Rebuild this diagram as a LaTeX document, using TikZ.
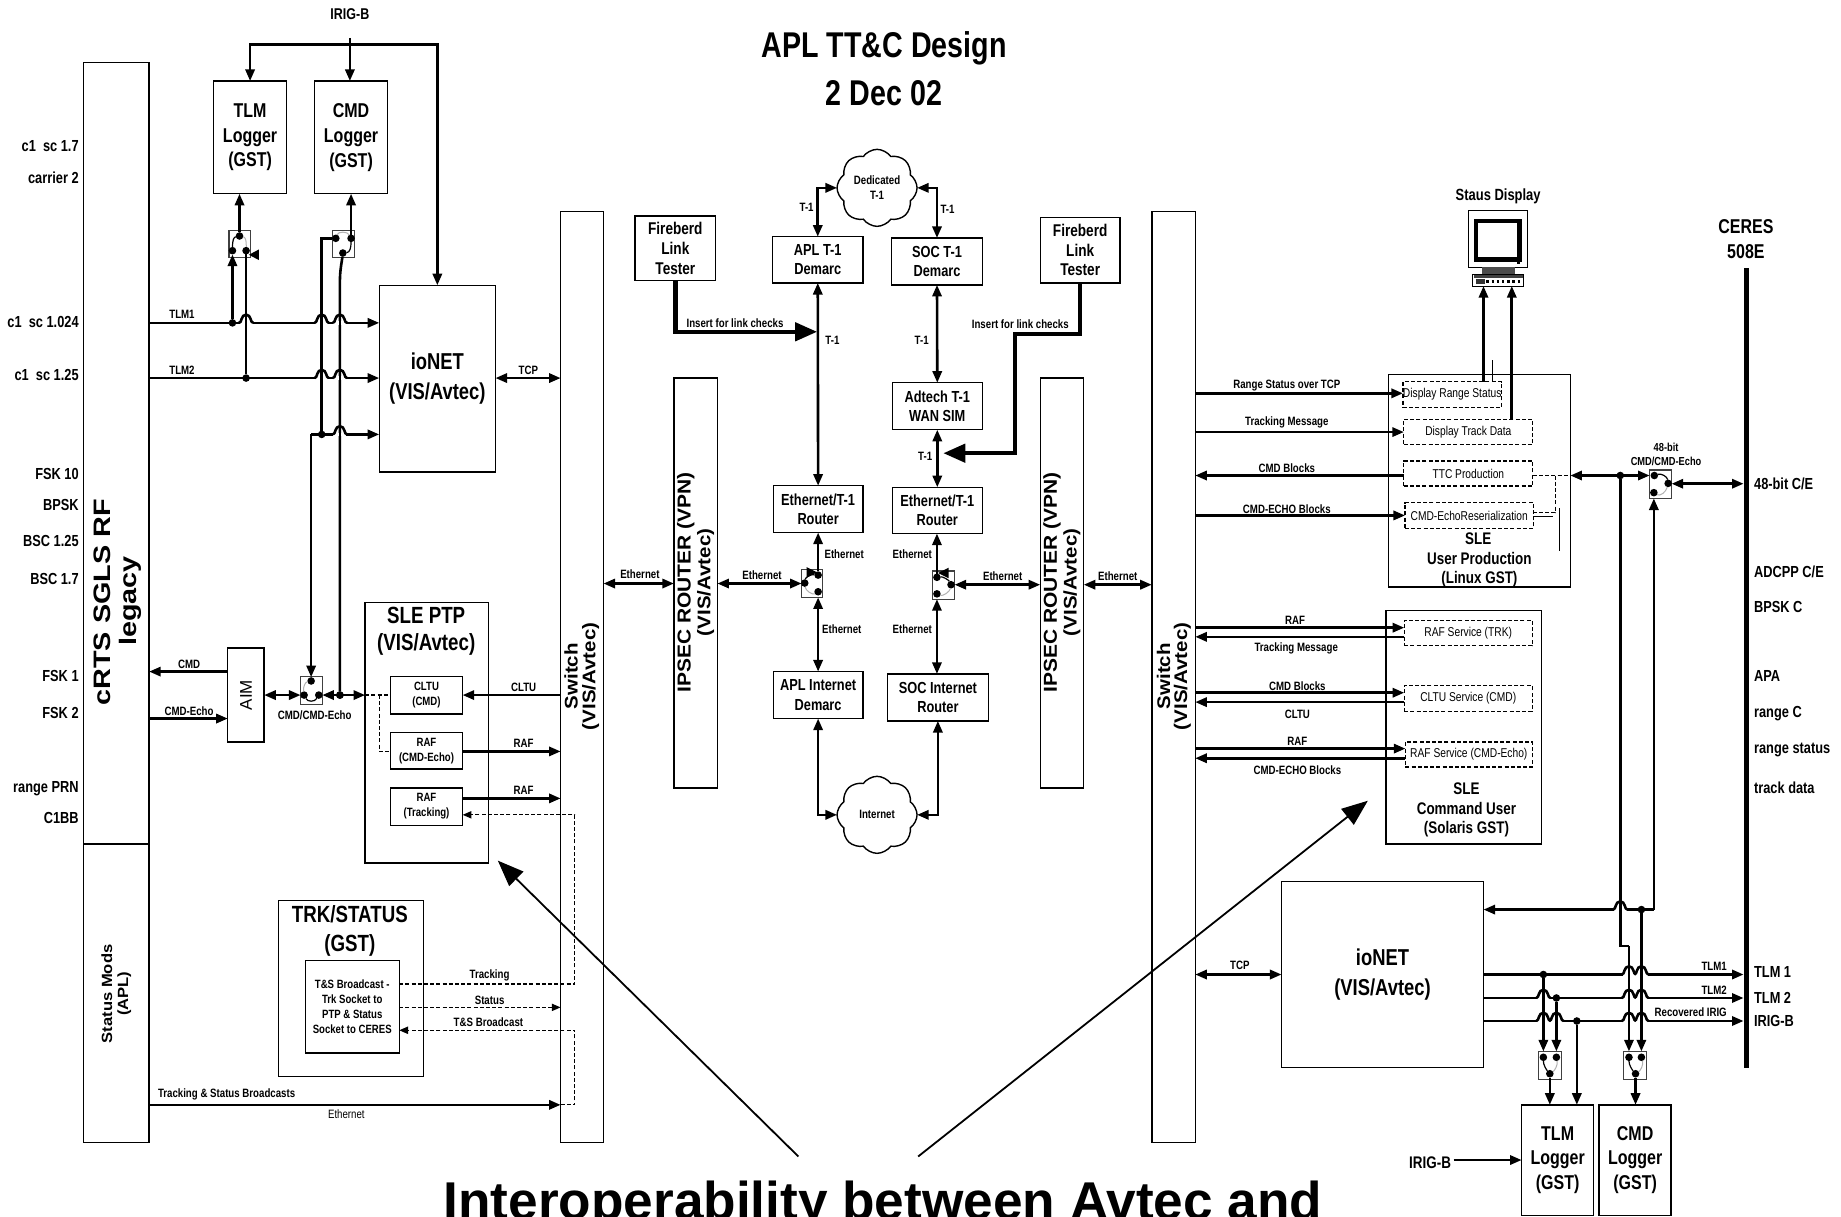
\documentclass[tikz,border=0pt]{standalone}
\usepackage{fontspec}
\setmainfont{Liberation Sans}[FakeStretch=0.8]
\newfontfamily\wide{Liberation Sans}
\newfontfamily\xw{Liberation Sans}[FakeStretch=1.12]
\newfontfamily\xxw{Liberation Sans}[FakeStretch=1.21]
\usetikzlibrary{arrows.meta,shapes.symbols}
\newcommand\fz[2]{\fontsize{#1}{#2}\selectfont}
\newcounter{lbc}
\newcommand\tx[4][]{\stepcounter{lbc}\node[lab,#1] (lb\thelbc) at (#2,#3) {#4};}
\newcommand\bx[7][]{%
  \pgfmathsetmacro\bxw{(#5-#3)*0.58705}\pgfmathsetmacro\bxh{(#6-#4)*0.58705}%
  \pgfmathsetmacro\bxx{(#3+#5)/2}\pgfmathsetmacro\bxy{(#4+#6)/2}%
  \node[bxs,minimum width=\bxw pt,minimum height=\bxh pt,#1] (#2) at (\bxx,\bxy) {#7};}
\newcommand\dotn[3]{\node[jd] (#1) at (#2,#3) {};}
\newcommand\hop[2]{%
  \fill[white] ({#1-5.5},{#2-1.6}) rectangle ({#1+5.5},{#2+1.6});
  \draw[sig] (#1,{#2-7}) -- (#1,{#2+3});
  \draw[sig] ({#1-6},#2) .. controls ({#1-3.5},#2) and ({#1-4.5},{#2-7}) .. (#1,{#2-7})
     .. controls ({#1+4.5},{#2-7}) and ({#1+3.5},#2) .. ({#1+6},#2);}
\tikzset{
  bxs/.style={draw=black,line width=.7pt,inner sep=0pt,outer sep=0pt,align=center,fill=white,font=\fz{8}{9.7}\bfseries},
  lab/.style={inner sep=0pt,outer sep=0pt,align=center,font=\fz{6.05}{7}\bfseries},
  side/.style={lab,anchor=east,font=\fz{8}{9}\bfseries},
  rside/.style={lab,anchor=west,font=\fz{8}{9}\bfseries},
  logf/.style={font=\fz{10}{12.4}\bfseries},
  ttl/.style={lab,font=\fz{11.7}{14}\bfseries},
  wrot/.style={lab,rotate=90,font=\xw\fz{9.15}{11}\bfseries},
  wrot2/.style={lab,rotate=90,font=\xw\fz{9.36}{11}\bfseries},
  big/.style={lab,rotate=90,font=\xxw\fz{11.9}{14}\bfseries},
  dbx/.style={dash pattern=on 2pt off 1.1pt,line width=.6pt,font=\fz{6.4}{7},fill=white},
  sub/.style={font=\fz{6}{7.5}\bfseries},
  swb/.style={draw=black!75,line width=.6pt,fill=white},
  jd/.style={circle,fill=black,inner sep=0pt,minimum size=3.8pt,outer sep=0pt},
  sig/.style={line width=1.3pt,black},
  ar/.style={sig,-{Triangle[length=5.8pt,width=4.6pt]}},
  bi/.style={sig,{Triangle[length=5.8pt,width=4.6pt]}-{Triangle[length=5.8pt,width=4.6pt]}},
  dsh/.style={line width=.65pt,dash pattern=on 2pt off 1.1pt},
  dar/.style={dsh,-{Triangle[length=4.4pt,width=3.6pt]}},
  thk/.style={line width=2.2pt,-{Triangle[length=11pt,width=9pt]}},
  bigar/.style={line width=.9pt,-{Triangle[length=13pt,width=10pt]}},
  bk/.style={line width=.6pt,black},
  gy/.style={line width=.5pt,black!30},
  cl/.style={cloud,cloud puffs=8,cloud puff arc=110,aspect=1.05,draw=black,line width=.7pt,fill=white,inner sep=0pt,outer sep=0pt,minimum width=40pt,minimum height=38.5pt,align=center,font=\fz{6.05}{7.6}\bfseries},
}
\begin{document}
\begin{tikzpicture}[x=0.58705pt,y=-0.58705pt]
\clip (0,0) rectangle (1568,1036);
\fill[white] (0,0) rectangle (1568,1036);
% ---------- left bars
\bx{crts}{71}{53}{127}{719}{}
\bx{stat}{71}{719}{127}{973}{}
\tx[big]{87.5}{513}{cRTS SGLS RF}
\tx[big]{110.8}{512}{legacy}
\tx[rotate=90,font=\xw\fz{7.4}{8}\bfseries]{99}{846.5}{Status Mods\\(APL)}
% side labels
\tx[side]{67}{124}{c1\ \ sc 1.7}
\tx[side]{67}{151}{carrier 2}
\tx[side]{67}{274}{c1\ \ sc 1.024}
\tx[side]{67}{319}{c1\ \ sc 1.25}
\tx[side]{67}{404}{FSK 10}
\tx[side]{67}{430}{BPSK}
\tx[side]{67}{461}{BSC 1.25}
\tx[side]{67}{493}{BSC 1.7}
\tx[side]{67}{576}{FSK 1}
\tx[side]{67}{607}{FSK 2}
\tx[side]{67}{672}{range PRN}
\tx[side]{67}{697}{C1BB}
% ---------- title
\tx[font=\fz{17.9}{22}\bfseries]{753}{41}{APL TT\&C Design}
\tx[font=\fz{17.9}{22}\bfseries]{753}{79}{2 Dec 02}
% ---------- loggers top
\tx[font=\fz{7.8}{9}\bfseries]{298}{12}{IRIG-B}
\node[inner sep=0pt,minimum height=8pt,minimum width=4pt,anchor=north] (irig) at (298,18) {};
\bx[logf]{tlmlog}{182}{69}{244}{165}{TLM\\Logger\\(GST)}
\bx[logf]{cmdlog}{268}{69}{330}{165}{CMD\\Logger\\(GST)}
\bx[font=\fz{11.5}{15}\bfseries]{ionet}{323}{243}{422}{402}{ioNET\\(VIS/Avtec)}
\coordinate (irj) at (298,38);
\draw[ar] (irig.south) -- (298,69);
\draw[bi] (tlmlog.north) |- (irj) -| (ionet.north);
% switches
\bx[swb]{swtlm}{195}{196}{213.5}{219.5}{}
\bx[swb]{swcmd}{283.5}{196}{302}{219.5}{}
% TLM lines
\bx{swl}{477.5}{180}{514}{973}{}
\draw[ar] (crts.east|-0,275) -- (ionet.west|-0,275);
\draw[ar] (crts.east|-0,322) -- (ionet.west|-0,322);
\coordinate (j3) at (265,370);
\draw[ar] (j3) -- (ionet.west|-0,370);
\tx{155}{268}{TLM1}
\tx{155}{315}{TLM2}
\dotn{tla}{204}{201}\dotn{tlb}{198}{213.5}\dotn{tlc}{209.6}{213.5}
\draw[bk] (tlb) .. controls (198,205) and (199,202) .. (tla);
\draw[gy] (tla) .. controls (209,202) and (210,205) .. (tlc);
\dotn{cma}{286}{203}\dotn{cmb}{299}{203}\dotn{cmc}{292}{215.5}
\draw[gy] (cma) .. controls (288,197) and (296,197) .. (cmb);
\draw[bk] (cmb) .. controls (299,211) and (298,215) .. (cmc);
\draw[ar] (tla) -- (tla|-tlmlog.south);
\draw[ar] (cmb) -- (cmb|-cmdlog.south);
\dotn{t1}{198}{275}\dotn{t2}{209.6}{322}\dotn{t3}{274}{370}
\draw[ar] (t1) -- (tlb);
\draw[sig] (t2) -- (tlc);
\fill (212,217) -- (220.5,212.5) -- (220.5,221.5) -- cycle;
\draw[sig] (t3) |- (cma);
% CMD vertical to AIM
\bx{ptp}{311}{513}{416}{735}{}
\bx[swb]{swaim}{256}{576}{274.5}{600}{}
\dotn{sa}{265}{580}\dotn{sb}{259}{592}\dotn{sc}{271.5}{592}\dotn{d1}{289.5}{592}
\draw[sig] (cmc) .. controls (291,224) and (289.5,230) .. (289.5,240) -- (d1);
\hop{209.6}{275}\hop{274}{275}\hop{289.5}{275}
\hop{274}{322}\hop{289.5}{322}\hop{289.5}{370}
% AIM area
\bx{aim}{194}{552}{225}{632}{}
\tx[rotate=90,font=\wide\fz{8.5}{10}]{209.5}{592}{AIM}
\draw[ar] (j3) -- (sa);
\draw[gy] (sa) .. controls (260,581) and (258,585) .. (sb);
\draw[bk] (sb) .. controls (262,598) and (268,598) .. (sc);
\draw[bi] (aim.east|-0,592) -- (swaim.west|-0,592);
\draw[bi] (swaim.east|-0,592) -- (ptp.west|-0,592);
\node[jd] (d12) at (d1) {};
\draw[ar] (aim.west|-0,572) -- (crts.east|-0,572);
\draw[ar] (crts.east|-0,612) -- (aim.west|-0,612);
\tx{161}{566}{CMD}
\tx{161}{606}{CMD-Echo}
\tx{268}{609}{CMD/CMD-Echo}
% SLE PTP
\tx[ttl]{363}{524}{SLE PTP}
\tx[ttl]{363}{549}{(VIS/Avtec)}
\bx[sub]{cltu}{332.5}{576}{394}{608}{CLTU\\(CMD)}
\bx[sub]{raf1}{332.5}{624}{394}{655}{RAF\\(CMD-Echo)}
\bx[sub]{raf2}{332.5}{671}{394}{703}{RAF\\(Tracking)}
\draw[dsh] (ptp.west|-0,592) -- (cltu.west|-0,592);
\draw[dsh] (323,592) |- (raf1.west|-0,640);
\draw[ar] (swl.west|-0,592) -- (cltu.east|-0,592);
\draw[ar] (raf1.east|-0,640) -- (swl.west|-0,640);
\draw[ar] (raf2.east|-0,680) -- (swl.west|-0,680);
\tx{446}{585}{CLTU}
\tx{446}{633}{RAF}
\tx{446}{673}{RAF}
% TRK/STATUS
\bx{trk}{237}{767}{360.5}{917}{}
\tx[ttl]{298}{779}{TRK/STATUS}
\tx[ttl]{298}{805}{(GST)}
\bx[font=\fz{6}{7.5}\bfseries]{tsb}{260}{818}{340}{897}{T\&S Broadcast -\\Trk Socket to\\PTP \& Status\\Socket to CERES}
\coordinate (dj1) at (489.6,694);
\coordinate (dj2) at (489.6,838);
\coordinate (dj3) at (489.6,877.5);
\coordinate (dj4) at (489.6,941);
\draw[dar] (tsb.east|-0,838) -- (dj2) -- (dj1) -- (raf2.east|-0,694);
\draw[dar] (tsb.east|-0,858) -- (swl.west|-0,858);
\draw[dar] (swl.west|-0,941) -- (dj4) -- (dj3) -- (tsb.east|-0,877.5);
\draw[ar] (stat.east|-0,941) -- (swl.west|-0,941);
\tx{417}{831}{Tracking}
\tx{417}{852}{Status}
\tx{416}{871}{T\&S Broadcast}
\tx{193}{932}{Tracking \& Status Broadcasts}
\tx[font=\fz{6.05}{7}]{295}{949}{Ethernet}
% switch text
\tx[wrot]{486.5}{576}{Switch}
\tx[wrot]{503}{576}{(VIS/Avtec)}
\draw[bi] (ionet.east|-0,322) -- (swl.west|-0,322);
\tx{450}{315}{TCP}
% ---------- centre
\bx{ipl}{574}{322}{611}{671}{}
\tx[wrot2]{584}{496}{IPSEC ROUTER (VPN)}
\tx[wrot]{601}{496}{(VIS/Avtec)}
\bx{ipr}{886}{322}{923}{671}{}
\tx[wrot2]{896}{496}{IPSEC ROUTER (VPN)}
\tx[wrot]{913}{496}{(VIS/Avtec)}
\bx{swr}{981}{180}{1018}{973}{}
\tx[wrot]{991}{576}{Switch}
\tx[wrot]{1007}{576}{(VIS/Avtec)}
\bx[font=\fz{8.5}{9.9}\bfseries]{fbl}{541}{184}{609.4}{239}{Fireberd\\Link\\Tester}
\bx[font=\fz{8.5}{9.9}\bfseries]{fbr}{886}{185}{954}{241}{Fireberd\\Link\\Tester}
\bx{aplt}{658}{201.6}{735}{241}{APL T-1\\Demarc}
\bx{soct}{759.5}{202.7}{836.6}{242.6}{SOC T-1\\Demarc}
\bx{adt}{760}{326}{836.6}{366}{Adtech T-1\\WAN SIM}
\bx{rtl}{658.6}{413.7}{735}{453.6}{Ethernet/T-1\\Router}
\bx{rtr}{760}{415}{836.6}{454.4}{Ethernet/T-1\\Router}
\bx{apli}{658.6}{572}{735}{612}{APL Internet\\Demarc}
\bx{soci}{755.8}{574}{841.8}{614}{SOC Internet\\Router}
\node[cl] (cld) at (747,160) {Dedicated\\T-1};
\node[cl] (cli) at (747,694) {Internet};
\draw[bi] (aplt.north) |- (cld.west);
\draw[bi] (soct.north) |- (cld.east);
\draw[bi] (apli.south) |- (cli.west);
\draw[bi] (soci.south) |- (cli.east);
\tx{687}{177}{T-1}
\tx{807}{178}{T-1}
\draw[bi] (aplt.south) -- (rtl.north);
\draw[bi] (soct.south) -- (adt.north);
\draw[bi] (adt.south) -- (rtr.north);
\tx{709}{290}{T-1}
\tx{785}{290}{T-1}
\tx{788}{389}{T-1}
\coordinate (ins1) at (696,282.6);
\coordinate (ins2) at (864.6,284.5);
\coordinate (ins3) at (864.6,386);
\coordinate (ins4) at (803.4,386);
\draw[thk] (fbl.south) |- (ins1);
\draw[thk] (fbr.south) |- (ins2) -- (ins3) -- (ins4);
\tx{626}{275}{Insert for link checks}
\tx{869}{276}{Insert for link checks}
% centre switches
\bx[swb]{swm1}{682.8}{485}{700.7}{508.8}{}
\dotn{m1l}{685.4}{496.6}\dotn{m1t}{696.8}{489.8}\dotn{m1b}{696.8}{504}
\draw[bk] (m1l) .. controls (686,492) and (690,489) .. (m1t);
\draw[gy] (m1l) .. controls (686,503) and (692,507) .. (m1b);
\fill (696,487.5) -- (687,483) -- (687,492) -- cycle;
\bx[swb]{swm2}{794}{486.4}{813}{510.3}{}
\dotn{m2t}{798}{491.7}\dotn{m2r}{810}{498}\dotn{m2b}{798}{505.8}
\draw[bk] (m2t) .. controls (803,491) and (808,494) .. (m2r);
\draw[gy] (m2r) .. controls (809,504) and (803,508) .. (m2b);
\fill (799,488) -- (808,483.5) -- (808,492.5) -- cycle;
\draw[ar] (m1t) -- (rtl.south-|m1t);
\draw[ar] (m2t) -- (rtr.south-|m2t);
\draw[bi] (swm1.south-|m1b) -- (apli.north-|m1b);
\draw[bi] (swm2.south-|m2b) -- (soci.north-|m2b);
\draw[bi] (ipl.east|-0,497) -- (swm1.west|-0,497);
\draw[bi] (swm2.east|-0,498) -- (ipr.west|-0,498);
\draw[bi] (swl.east|-0,497) -- (ipl.west|-0,497);
\draw[bi] (ipr.east|-0,498) -- (swr.west|-0,498);
\tx{545}{489}{Ethernet}
\tx{649}{490}{Ethernet}
\tx{854}{491}{Ethernet}
\tx{952}{491}{Ethernet}
\tx{719}{472}{Ethernet}
\tx{777}{472}{Ethernet}
\tx{717}{536}{Ethernet}
\tx{777}{536}{Ethernet}
% ---------- SLE user production
\bx{slu}{1182.7}{319}{1337.5}{500}{}
\bx[dbx]{drs}{1195.7}{325}{1278}{347}{Display Range Status}
\bx[dbx]{dtd}{1195.7}{357}{1305.5}{378.5}{Display Track Data}
\bx[dbx]{ttc}{1195.7}{392.6}{1305.5}{414}{TTC Production}
\bx[dbx]{cer}{1196.7}{428}{1306}{450}{CMD-EchoReserialization}
\tx[font=\fz{8.4}{10}\bfseries]{1259}{459}{SLE}
\tx[font=\fz{8.4}{10}\bfseries]{1260}{476}{User Production}
\tx[font=\fz{8.4}{10}\bfseries]{1260}{493}{(Linux GST)}
\draw[ar] (swr.east|-0,335) -- (drs.west|-0,335);
\draw[ar] (swr.east|-0,368) -- (dtd.west|-0,368);
\draw[ar] (ttc.west|-0,405) -- (swr.east|-0,405);
\draw[ar] (swr.east|-0,439) -- (cer.west|-0,439);
\tx{1096}{328}{Range Status over TCP}
\tx{1096}{360}{Tracking Message}
\tx{1096}{399}{CMD Blocks}
\tx{1096}{434}{CMD-ECHO Blocks}
% monitor
\tx[font=\fz{8.1}{9}\bfseries]{1276}{167}{Staus Display}
\bx[line width=.5pt]{mon}{1251}{179.5}{1301}{227.7}{}
\draw[line width=2.2pt] (1257,188) rectangle (1294,221);
\fill (1292,223.5) rectangle (1295,225);
\fill[black!70] (1262,227.7) rectangle (1290,233);
\bx[line width=.5pt]{kb}{1254.5}{233.4}{1297.6}{243.6}{}
\fill[black!75] (1255,234.5) rectangle (1297,236.5);
\fill[black!80] (1257,238) rectangle (1265,242);
\draw[line width=1.6pt,dash pattern=on 1.2pt off 1.4pt] (1266,240) -- (1296,240);
\draw[ar] (drs.north-|1263.5,0) -- (kb.south-|1263.5,0);
\draw[ar] (dtd.north-|1287.6,0) -- (kb.south-|1287.6,0);
\draw[line width=.4pt] (drs.north-|1270.7,0) -- (1270.7,307);
% CERES
\tx[font=\fz{10}{12}\bfseries]{1487}{193}{CERES}
\tx[font=\fz{10}{12}\bfseries]{1487}{214}{508E}
\node[fill=black,inner sep=0pt,outer sep=0pt,minimum width=2.9pt,minimum height=400.4pt] (cer5) at (1487.5,569) {};
\tx[rside]{1494}{412}{48-bit C/E}
\tx[rside]{1494}{487}{ADCPP C/E}
\tx[rside]{1494}{517}{BPSK C}
\tx[rside]{1494}{576}{APA}
\tx[rside]{1494}{608}{range C}
\tx[rside]{1494}{639}{range status}
\tx[rside]{1494}{671}{track data}
\tx[rside]{1494}{828}{TLM 1}
\tx[rside]{1494}{850}{TLM 2}
\tx[rside]{1494}{870}{IRIG-B}
% 48-bit switch
\draw[dsh] (ttc.east|-0,405) -- (1337.5,405);
\draw[dsh] (1324.6,405) |- (cer.east|-0,436.7);
\draw[line width=.5pt] (cer.east|-0,439.5) -- (1323,439.5);
\draw[line width=.5pt] (1328,433) -- (1328,469);
\bx[swb]{sw48}{1405}{400.3}{1423.7}{424.5}{}
\dotn{s4a}{1409}{405}\dotn{s4r}{1420.8}{411.7}\dotn{s4b}{1408.6}{419.6}
\draw[bk] (s4a) .. controls (1415,403) and (1420,406) .. (s4r);
\draw[gy] (s4r) .. controls (1419,419) and (1414,423) .. (s4b);
\draw[bi] (slu.east|-0,405) -- (sw48.west|-0,405);
\draw[bi] (sw48.east|-0,412) -- (cer5.west|-0,412);
\dotn{s4j}{1380}{405}
\tx[font=\fz{5.8}{7}\bfseries]{1419}{381}{48-bit}
\tx[font=\fz{5.8}{7}\bfseries]{1419}{393}{CMD/CMD-Echo}
% SLE command user
\bx{slc}{1180.6}{520}{1312.7}{719}{}
\bx[dbx]{rts}{1196}{528.4}{1305}{550}{RAF Service (TRK)}
\bx[dbx]{cls}{1196}{584}{1305}{605.7}{CLTU Service (CMD)}
\bx[dbx]{rcs}{1197}{632}{1305}{653.3}{RAF Service (CMD-Echo)}
\tx[font=\fz{8.4}{10}\bfseries]{1249}{672}{SLE}
\tx[font=\fz{8.4}{10}\bfseries]{1249}{689}{Command User}
\tx[font=\fz{8.4}{10}\bfseries]{1249}{706}{(Solaris GST)}
\draw[ar] (swr.east|-0,534.6) -- (rts.west|-0,534.6);
\draw[ar] (rts.west|-0,542.4) -- (swr.east|-0,542.4);
\draw[ar] (swr.east|-0,590) -- (cls.west|-0,590);
\draw[ar] (cls.west|-0,598) -- (swr.east|-0,598);
\draw[ar] (swr.east|-0,637.6) -- (rcs.west|-0,637.6);
\draw[ar] (rcs.west|-0,645.8) -- (swr.east|-0,645.8);
\tx{1103}{528}{RAF}
\tx{1104}{552}{Tracking Message}
\tx{1105}{584}{CMD Blocks}
\tx{1105}{608}{CLTU}
\tx{1105}{631}{RAF}
\tx{1105}{656}{CMD-ECHO Blocks}
% ioNET right
\bx[font=\fz{11.5}{15}\bfseries]{ionr}{1091.5}{751}{1263.5}{909.4}{ioNET\\(VIS/Avtec)}
\draw[bi] (swr.east|-0,830) -- (ionr.west|-0,830);
\tx{1056}{822}{TCP}
\coordinate (rk) at (1408.6,774.7);
\dotn{rd}{1398}{774.7}
\draw[ar] (rk) -- (ionr.east|-0,774.7);
\draw[ar] (rk) -- (sw48.south-|s4b);
\draw[ar] (ionr.east|-0,830) -- (cer5.west|-0,830);
\draw[ar] (ionr.east|-0,850) -- (cer5.west|-0,850);
\draw[ar] (ionr.east|-0,869.6) -- (cer5.west|-0,869.6);
\tx{1460}{823}{TLM1}
\tx{1460}{843}{TLM2}
\tx{1440}{862}{Recovered IRIG}
\bx[logf]{tlml}{1296}{941}{1357.3}{1035}{TLM\\Logger\\(GST)}
\bx[logf]{cmdl}{1362}{941}{1423.3}{1035}{CMD\\Logger\\(GST)}
\bx[swb]{swb1}{1310.6}{895.5}{1329.6}{919.3}{}
\bx[swb]{swb2}{1383}{895.5}{1402}{919.3}{}
\dotn{b1l}{1314.5}{900.5}\dotn{b1r}{1325.6}{900.5}\dotn{b1b}{1320}{914.5}
\dotn{b2l}{1387.4}{900.5}\dotn{b2r}{1398}{900.5}\dotn{b2b}{1393}{914.5}
\draw[bk] (b1l) .. controls (1314.5,907) and (1317,911) .. (b1b);
\draw[gy] (b1r) .. controls (1327,907) and (1324,912) .. (b1b);
\draw[bk] (b2l) .. controls (1387.4,907) and (1390,911) .. (b2b);
\draw[gy] (b2r) .. controls (1400,907) and (1397,912) .. (b2b);
\dotn{j1}{1314.5}{830}\dotn{j2}{1325.6}{850}\dotn{j4}{1343}{869.6}
\draw[ar] (j1) -- (swb1.north-|j1);
\draw[ar] (j2) -- (swb1.north-|j2);
\draw[ar] (j4) -- (tlml.north-|j4);
\draw[ar] (b1b) -- (tlml.north-|b1b);
\draw[ar] (b2b) -- (cmdl.north-|b2b);
\draw[ar] (rd) -- (swb2.north-|rd);
\coordinate (bnd1) at (1380,805.7);
\coordinate (bnd2) at (1387.4,805.7);
\draw[sig] (s4j) -- (bnd1) -- (bnd2);
\draw[ar] (bnd2) -- (swb2.north-|b2l);
\hop{1380}{774.7}
\hop{1387.4}{830}\hop{1398}{830}
\hop{1387.4}{850}\hop{1398}{850}\hop{1314.5}{850}
\hop{1387.4}{869.6}\hop{1398}{869.6}\hop{1314.5}{869.6}\hop{1325.6}{869.6}
\tx[font=\fz{8.4}{8}\bfseries]{1218}{990}{IRIG-B}
\coordinate (ig) at (1238,988);
\draw[ar] (ig) -- (tlml.west|-0,988);
% big arrows + text
\coordinate (bs1) at (680,985);\coordinate (bt1) at (424,733);
\coordinate (bs2) at (782,985);\coordinate (bt2) at (1165,682);
\draw[bigar] (bs1) -- (bt1);
\draw[bigar] (bs2) -- (bt2);
\node[inner sep=0pt,outer sep=0pt,anchor=base,font=\wide\fz{26.6}{30}\bfseries] (bigt) at (752,1038.5) {Interoperability between Avtec and};
\end{tikzpicture}
\end{document}
